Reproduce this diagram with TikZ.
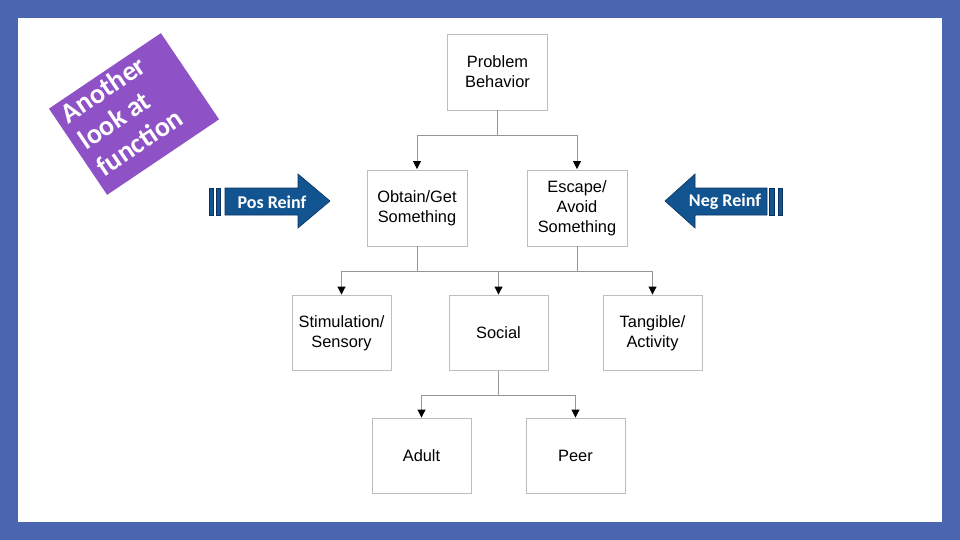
\documentclass[tikz,border=0pt]{standalone}
\usepackage{fontspec}
\setmainfont{Liberation Sans}
\newfontfamily\carl{Carlito}
\usetikzlibrary{arrows.meta}
\definecolor{frameblue}{RGB}{74,102,176}
\definecolor{badgepurple}{RGB}{142,82,198}
\definecolor{arrowblue}{RGB}{18,84,144}
\definecolor{arrowedge}{RGB}{10,50,95}
\definecolor{boxgray}{RGB}{190,190,190}
\definecolor{linegray}{RGB}{150,150,150}
\tikzset{
  chartbox/.style={draw=boxgray, line width=0.9pt, fill=white, minimum width=100, minimum height=76,
    align=center, inner sep=2pt, font=\fontsize{16.4}{20}\selectfont},
  lowbox/.style={chartbox, minimum width=99, minimum height=75},
  conn/.style={draw=linegray, line width=0.9pt},
  conarr/.style={conn, -{Triangle[width=8pt,length=8pt,color=black]}, shorten >=0.5pt},
  blockarrow/.style={fill=arrowblue, draw=arrowedge, line width=0.6pt},
  arrowtext/.style={text=white, font=\carl\bfseries\fontsize{18}{20}\selectfont, inner sep=0}
}
\begin{document}
\begin{tikzpicture}[x=1pt,y=-1pt]
\useasboundingbox (0,0) rectangle (960,540);
\fill[frameblue] (0,0) rectangle (960,540);
\fill[white] (18,18) rectangle (942,522);

% badge
\node[fill=badgepurple, minimum width=135, minimum height=104, rotate=34, inner sep=0] (badge) at (134,114) {};
\begin{scope}[shift={(134,114)}, rotate=34, transform shape]
  \node[anchor=north west, align=left, text=white, inner sep=0,
        font=\carl\bfseries\fontsize{28}{32}\selectfont] (badgetext) at (-60,-48) {Another\\look at\\function};
\end{scope}

% boxes
\node[chartbox] (pb) at (497.5,72) {Problem\\Behavior};
\node[chartbox] (og) at (417,208) {Obtain/Get\\Something};
\node[chartbox] (ea) at (577,208) {Escape/\\Avoid\\Something};
\node[lowbox] (ss) at (341.5,333) {Stimulation/\\Sensory};
\node[lowbox] (so) at (498.5,333) {Social};
\node[lowbox] (ta) at (652.5,333) {Tangible/\\Activity};
\node[lowbox] (ad) at (421.5,456) {Adult};
\node[lowbox] (pe) at (575.5,456) {Peer};

% connectors level 1
\draw[conn] (pb.south) -- ++(0,25) coordinate (j1);
\draw[conarr] (j1) -| (og.north);
\draw[conarr] (j1) -| (ea.north);
% level 2
\draw[conn] (og.south) -- ++(0,25) coordinate (j2);
\draw[conn] (ea.south) -- ++(0,25) coordinate (j3);
\draw[conn] (j2) -- (j3);
\draw[conarr] (j2) -| (ss.north);
\draw[conarr] (j3) -| (ta.north);
\draw[conarr] (so.north |- j2) -- (so.north);
% level 3
\draw[conn] (so.south) -- ++(0,24) coordinate (j4);
\draw[conarr] (j4) -| (ad.north);
\draw[conarr] (j4) -| (pe.north);

% Pos Reinf arrow
\fill[blockarrow] (209,188) rectangle (213.5,215);
\fill[blockarrow] (216,188) rectangle (220.5,215);
\filldraw[blockarrow] (225,188) -- (298,188) -- (298,174) -- (330,201) -- (298,228) -- (298,215) -- (225,215) -- cycle;
\node[arrowtext] (pos) at (272,202) {Pos Reinf};

% Neg Reinf arrow
\filldraw[blockarrow] (767,188) -- (695,188) -- (695,174) -- (665,201) -- (695,228) -- (695,215) -- (767,215) -- cycle;
\fill[blockarrow] (769.5,188) rectangle (774,215);
\fill[blockarrow] (778,188) rectangle (782.5,215);
\node[arrowtext] (neg) at (725,202) {Neg Reinf};
\end{tikzpicture}
\end{document}
